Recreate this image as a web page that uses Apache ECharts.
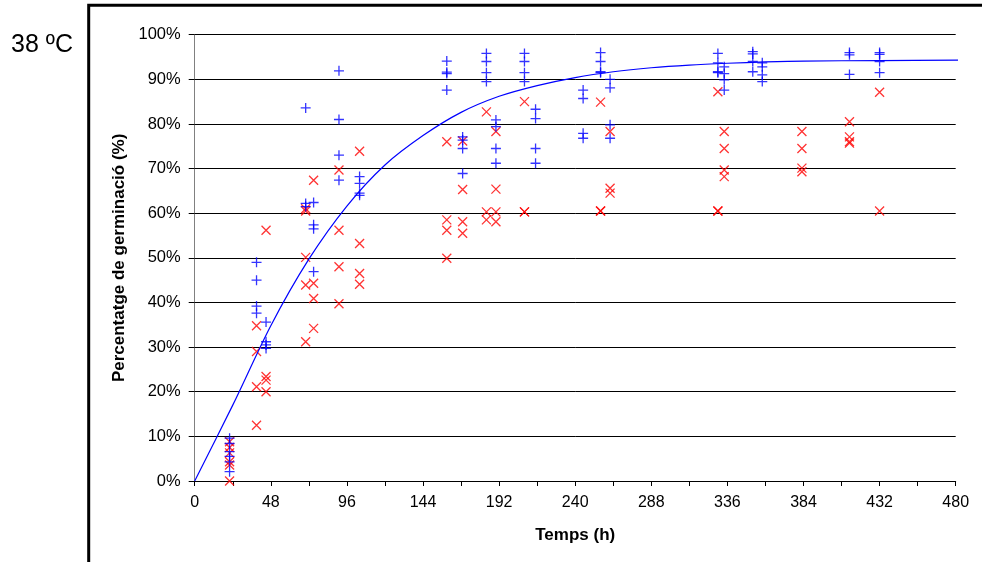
<!DOCTYPE html>
<html>
<head>
<meta charset="utf-8">
<script src="https://cdn.jsdelivr.net/npm/echarts@6/dist/echarts.min.js"></script>
<style>
  html, body { margin: 0; padding: 0; background: #fff; }
  #chart { width: 982px; height: 562px; }
</style>
</head>
<body>
<div id="chart"></div>
<script>
// hores de mostreig i percentatges llegits del gràfic
var blueHours = [22,22,22,22,22,22, 39,39,39,39, 45,45,45,45, 70,70,70, 75,75,75,75,
  91,91,91,91, 104,104,104,104, 159,159,159,159, 169,169,169,169, 184,184,184,184,
  190,190,190,190, 208,208,208,208, 215,215,215,215, 245,245,245,245, 256,256,256,256,
  262,262,262,262, 330,330,330,330, 334,334,334,334, 352,352,352,352, 358,358,358,358,
  413,413,413, 432,432,432,432];
var bluePct = [9.6,8.4,6.6,5.5,4.3,2.1, 49,45,39.2,37.6, 35.6,31.2,30.5,29.7, 83.6,62.2,61.5, 62.4,57.4,56.5,46.9,
  91.9,81,73,67.4, 68.2,66.7,64.5,64, 94.1,91.6,91.3,87.6, 77.1,76.4,74.5,68.9, 95.8,94,91.5,89.5,
  80.9,79.4,74.5,71.2, 95.8,94,91.5,89.5, 83.3,81.2,74.5,71.2, 87.6,85.7,77.9,76.8, 96,94,91.7,91.5,
  90,88.1,79.8,76.8, 95.8,93.7,91.7,91.5, 92.8,91.3,89.9,87.6, 96.2,95.7,94,91.7, 93.7,92.8,91,89.5,
  96,95.5,91.1, 96,95.6,94,91.5];

var redHours = [22,22,22,22,22,22, 39,39,39,39, 45,45,45,45, 70,70,70,70,70, 75,75,75,75,
  91,91,91,91, 104,104,104,104, 159,159,159,159, 169,169,169,169, 184,184,184,
  190,190,190,190, 208,208,208, 256,256,256, 262,262,262, 330,330,330, 334,334,334,334,
  383,383,383,383, 413,413,413,413, 432,432];
var redPct = [8.8,7.5,6.3,4.3,3.6,0, 34.8,29,21.1,12.5, 56.2,23.4,22.6,20, 61,60.5,50.1,43.9,31.2, 67.4,44.3,40.9,34.2,
  69.7,56.2,48,39.7, 73.9,53.2,46.5,44.1, 76,58.5,56.2,49.9, 76.2,65.3,58.1,55.5, 82.7,60.3,58.5,
  78.3,65.4,60.3,58.1, 85,60.3,60.3, 84.9,60.5,60.5, 78.3,65.6,64.5, 87.2,60.5,60.5, 78.3,74.5,69.7,68.2,
  78.3,74.5,70.1,69.3, 80.5,77.1,76,75.7, 87.1,60.5];

// corba ajustada (llegida del gràfic)
var curveHours = [0,24,48,72,96,120,144,168,192,216,240,264,288,312,336,360,384,432,483];
var curvePct = [0,17,34.8,49.7,61.6,70.8,77.4,82.6,86.2,88.6,90.4,91.7,92.6,93.2,93.6,93.9,94.1,94.2,94.3];

var FONT = 'Liberation Sans, Arial, sans-serif';

function pairs(xs, ys) {
  return xs.map(function (x, i) { return [x, ys[i]]; });
}

var chart = echarts.init(document.getElementById('chart'));

var option = {
  animation: false,
  backgroundColor: '#fff',
  grid: { left: 194.7, right: 26.3, top: 34.7, bottom: 81 },
  graphic: [
    {
      type: 'rect', z: 100,
      shape: { x: 88.7, y: 5.3, width: 1000, height: 700 },
      style: { fill: 'none', stroke: '#000', lineWidth: 3 }
    },
    {
      type: 'text', left: 11, top: 33,
      style: { text: '38 ºC', font: '25px ' + FONT, fill: '#000' }
    }
  ],
  xAxis: {
    type: 'value',
    min: 0, max: 480, interval: 24,
    name: 'Temps (h)',
    nameLocation: 'middle',
    nameGap: 46,
    nameTextStyle: { fontFamily: FONT, fontSize: 17, fontWeight: 'bold', color: '#000' },
    axisLine: { onZero: false, lineStyle: { color: '#000', width: 1 } },
    axisTick: { show: true, length: 5, lineStyle: { color: '#000' } },
    axisLabel: {
      margin: 14, fontFamily: FONT, fontSize: 16, color: '#000',
      formatter: function (v) { return v % 48 === 0 ? String(v) : ''; }
    },
    splitLine: { show: false }
  },
  yAxis: {
    type: 'value',
    min: 0, max: 100, interval: 10,
    name: 'Percentatge de germinació (%)',
    nameLocation: 'middle',
    nameRotate: 90,
    nameGap: 67,
    nameTextStyle: { fontFamily: FONT, fontSize: 17, fontWeight: 'bold', color: '#000' },
    axisLine: { show: true, lineStyle: { color: '#808080', width: 1 } },
    axisTick: { show: true, length: 6, lineStyle: { color: '#000' } },
    axisLabel: { margin: 14, fontFamily: FONT, fontSize: 16.5, color: '#000', formatter: '{value}%' },
    splitLine: { show: true, lineStyle: { color: '#000', width: 1 } }
  },
  series: [
    {
      name: 'germinació +',
      type: 'scatter',
      data: pairs(blueHours, bluePct),
      symbol: 'path://M0,5L10,5M5,0L5,10',
      symbolSize: 10,
      itemStyle: { color: '#0000ff', borderColor: '#0000ff', borderWidth: 1.3 },
      z: 3
    },
    {
      name: 'germinació x',
      type: 'scatter',
      data: pairs(redHours, redPct),
      symbol: 'path://M0,0L10,10M10,0L0,10',
      symbolSize: 9,
      itemStyle: { color: '#ff0000', borderColor: '#ff0000', borderWidth: 1.3 },
      z: 2
    },
    {
      name: 'ajust',
      type: 'line',
      data: pairs(curveHours, curvePct),
      smooth: 0.3,
      showSymbol: false,
      clip: false,
      lineStyle: { color: '#0000ff', width: 1.2 },
      z: 4
    }
  ]
};

chart.setOption(option);
</script>
</body>
</html>
